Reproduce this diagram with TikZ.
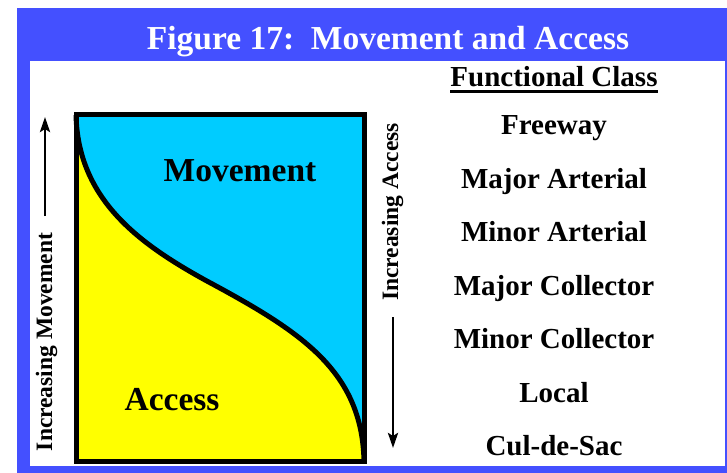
\documentclass[tikz,border=0pt]{standalone}
\usepackage{fontspec}
\setmainfont{Liberation Serif}
\usepackage{tikz}
\usetikzlibrary{arrows.meta}

\definecolor{frameblue}{RGB}{68,80,255}
\definecolor{moveblue}{RGB}{0,204,255}
\definecolor{accyellow}{RGB}{255,255,0}

\begin{document}
\begin{tikzpicture}[x=1pt,y=-1pt]
	\useasboundingbox (0,0) rectangle (727,473);

	% frame and title bar
	\fill[frameblue] (17,8) rectangle (727,473);
	\fill[white] (30,61) rectangle (725,466);
	\node[anchor=base,text=white,font=\fontsize{33.5}{36}\selectfont\bfseries] (title) at (388,50) {Figure 17:\ \ Movement and Access};

	% the two regions split by the curve
	\coordinate (tl) at (76,115);
	\coordinate (br) at (364,461);
	\coordinate (bl) at (76,461);
	\coordinate (tr) at (364,115);
	\fill[moveblue] (tl) rectangle (br);
	\fill[accyellow] (tl) .. controls (78,200) and (140,244) .. (205,280)
		.. controls (300,331) and (362,370) .. (br) -- (bl) -- cycle;
	\draw[line width=5pt] (tl) .. controls (78,200) and (140,244) .. (205,280)
		.. controls (300,331) and (362,370) .. (br);
	\draw[line width=5pt] (tl) rectangle (br);

	\begin{scope}[every node/.style={anchor=base,font=\fontsize{33.5}{36}\selectfont\bfseries}]
		\node (move) at (240,182) {Movement};
		\node (acc) at (172,410) {Access};
	\end{scope}

	% side labels with arrows
	\begin{scope}[every node/.style={anchor=base,rotate=90,font=\fontsize{23.5}{26}\selectfont\bfseries}]
		\node (incmove) at (52,342) {Increasing Movement};
		\node (incacc) at (398,212) {Increasing Access};
	\end{scope}
	\coordinate (movebase) at (45,216);
	\coordinate (movetip) at (45,117);
	\coordinate (accbase) at (393,317);
	\coordinate (acctip) at (393,448);
	\begin{scope}[>={Stealth[length=15pt,width=10pt,inset=3pt]}, line width=2.8pt]
		\draw[->] (movebase) -- (movetip);
		\draw[->] (accbase) -- (acctip);
	\end{scope}

	% functional classes
	\begin{scope}[every node/.style={anchor=base,font=\fontsize{29}{31}\selectfont\bfseries}]
		\node[inner xsep=0pt] (fclass) at (554,87) {Functional Class};
		\node (c1) at (554,135) {Freeway};
		\node (c2) at (554,188) {Major Arterial};
		\node (c3) at (554,241) {Minor Arterial};
		\node (c4) at (554,295) {Major Collector};
		\node (c5) at (554,348) {Minor Collector};
		\node (c6) at (554,402) {Local};
		\node (c7) at (554,455) {Cul-de-Sac};
	\end{scope}
	\draw[line width=3pt] ([yshift=-5pt]fclass.base west) -- ([yshift=-5pt]fclass.base east);
\end{tikzpicture}
\end{document}
